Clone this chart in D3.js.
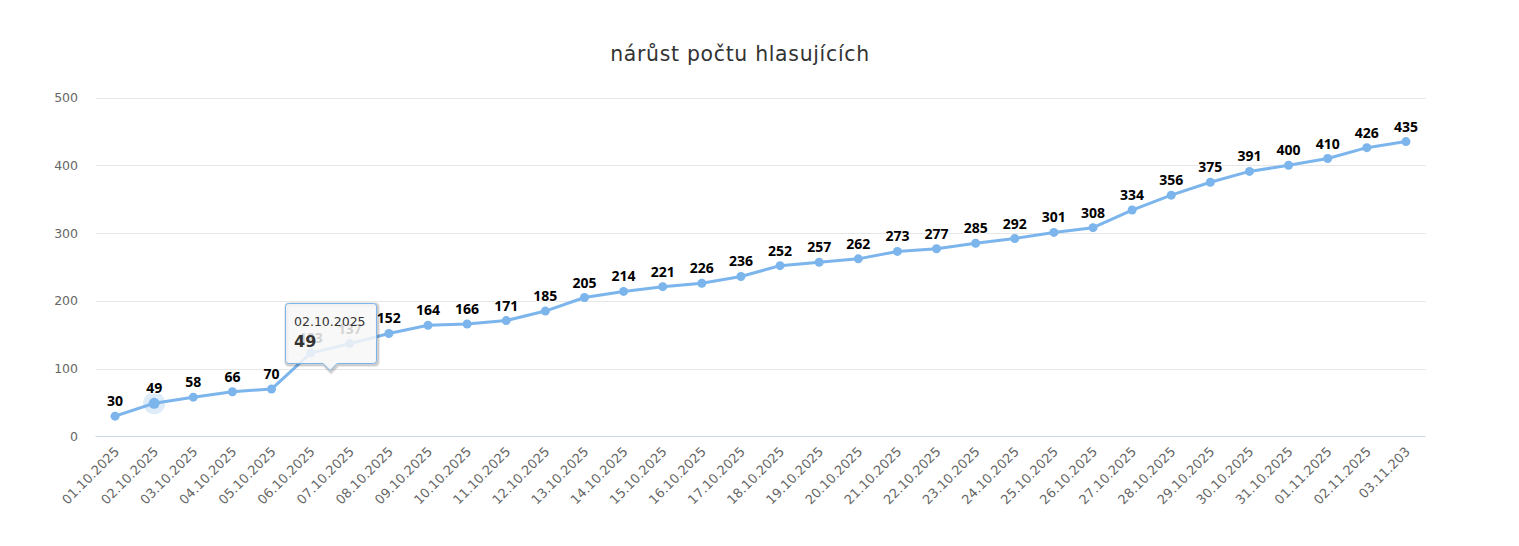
<!DOCTYPE html>
<html><head><meta charset="utf-8">
<script src="https://cdn.jsdelivr.net/npm/d3@7/dist/d3.min.js"></script>
<style>body{margin:0;background:#fff}svg{display:block}</style>
</head><body><svg id="c" width="1519" height="546"></svg>
<script>
const title = "nárůst počtu hlasujících";
const categories = ["01.10.2025","02.10.2025","03.10.2025","04.10.2025","05.10.2025","06.10.2025","07.10.2025","08.10.2025","09.10.2025","10.10.2025","11.10.2025","12.10.2025","13.10.2025","14.10.2025","15.10.2025","16.10.2025","17.10.2025","18.10.2025","19.10.2025","20.10.2025","21.10.2025","22.10.2025","23.10.2025","24.10.2025","25.10.2025","26.10.2025","27.10.2025","28.10.2025","29.10.2025","30.10.2025","31.10.2025","01.11.2025","02.11.2025","03.11.203"];
const values = [30,49,58,66,70,123,137,152,164,166,171,185,205,214,221,226,236,252,257,262,273,277,285,292,301,308,334,356,375,391,400,410,426,435];
const yTicks = [0,100,200,300,400,500];
const hoverIndex = 1;

(function () {
const font = "'DejaVu Sans', 'Lucida Grande', sans-serif";
const svg = d3.select("#c").style("font-family", font);
const pLeft = 95.5, pRight = 1425.5, pTop = 97.5, pBottom = 436.5;

const x = d3.scaleBand().domain(categories).range([pLeft, pRight]);
const y = d3.scaleLinear().domain([0, 500]).range([pBottom, pTop]);
const cx = d => x(d) + x.bandwidth()/2;

svg.append("text").attr("x", 740).attr("y", 61).attr("text-anchor", "middle")
  .attr("font-size", 20.4).attr("letter-spacing", 0.7).attr("fill", "#333").text(title);

svg.append("g").selectAll("line").data(yTicks.filter(t => t > 0)).join("line")
  .attr("x1", pLeft).attr("x2", pRight)
  .attr("y1", d => Math.round(y(d)) + 0.5).attr("y2", d => Math.round(y(d)) + 0.5)
  .attr("stroke", "#e6e6e6");

svg.append("g").selectAll("text").data(yTicks).join("text")
  .attr("x", 78).attr("y", d => y(d) + 4.5).attr("text-anchor", "end")
  .attr("font-size", 12.5).attr("fill", "#666").text(d => d);

svg.append("line").attr("x1", pLeft).attr("x2", pRight).attr("y1", pBottom).attr("y2", pBottom)
  .attr("stroke", "#ccd6eb");

svg.append("g").selectAll("text").data(categories).join("text")
  .attr("transform", d => `translate(${cx(d) + 5},${pBottom + 16}) rotate(-45)`)
  .attr("text-anchor", "end").attr("font-size", 13).attr("fill", "#666").text(d => d);

const line = d3.line().x((d, i) => cx(categories[i])).y(d => y(d));
svg.append("path").datum(values).attr("d", line).attr("fill", "none")
  .attr("stroke", "#7cb5ec").attr("stroke-width", 3).attr("stroke-linejoin", "round").attr("stroke-linecap", "round");

svg.append("circle").attr("cx", cx(categories[hoverIndex])).attr("cy", y(values[hoverIndex]))
  .attr("r", 11).attr("fill", "#7cb5ec").attr("opacity", 0.25);

svg.append("g").selectAll("circle").data(values).join("circle")
  .attr("cx", (d, i) => cx(categories[i])).attr("cy", d => y(d))
  .attr("r", (d, i) => i === hoverIndex ? 5.5 : 4.5).attr("fill", "#7cb5ec");

svg.append("g").selectAll("text").data(values).join("text")
  .attr("x", (d, i) => cx(categories[i])).attr("y", d => y(d) - 10)
  .attr("text-anchor", "middle").attr("font-family", "'Open Sans', sans-serif")
  .attr("font-size", 14).attr("font-weight", "bold")
  .attr("fill", "#000").attr("stroke", "#fff").attr("stroke-width", 2).attr("paint-order", "stroke")
  .attr("stroke-linejoin", "round").text(d => d);

const tx = 285.5, ty = 303.5, tw = 91, th = 60, px = 330;
const tipPath = `M${tx+3},${ty} H${tx+tw-3} Q${tx+tw},${ty} ${tx+tw},${ty+3} V${ty+th-3} Q${tx+tw},${ty+th} ${tx+tw-3},${ty+th} H${px+7} L${px},${ty+th+7} L${px-7},${ty+th} H${tx+3} Q${tx},${ty+th} ${tx},${ty+th-3} V${ty+3} Q${tx},${ty} ${tx+3},${ty} Z`;
const tip = svg.append("g");
tip.append("path").attr("d", tipPath).attr("transform", "translate(1,1)")
  .attr("fill", "none").attr("stroke", "#000").attr("stroke-opacity", 0.08).attr("stroke-width", 5);
tip.append("path").attr("d", tipPath).attr("transform", "translate(1,1)")
  .attr("fill", "none").attr("stroke", "#000").attr("stroke-opacity", 0.12).attr("stroke-width", 3);
tip.append("path").attr("d", tipPath).attr("fill", "rgba(247,247,247,0.85)").attr("stroke", "#7cb5ec");
tip.append("text").attr("x", tx + 8.5).attr("y", ty + 22).attr("font-size", 12.5).attr("fill", "#333")
  .text(categories[hoverIndex]);
tip.append("text").attr("x", tx + 8.5).attr("y", ty + 43).attr("font-size", 16).attr("font-weight", "bold").attr("fill", "#333")
  .text(values[hoverIndex]);
})();
</script></body></html>
